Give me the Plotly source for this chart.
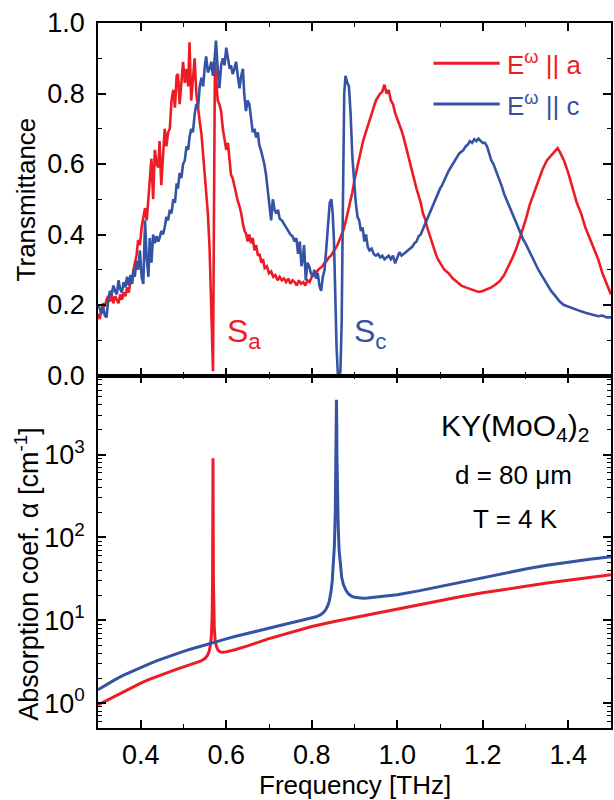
import math
import plotly.graph_objects as go

# ---------------- Transmittance, E(omega) || a ----------------
freq_a = [
    0.300, 0.304, 0.308, 0.312, 0.316, 0.320, 0.324, 0.328, 0.332, 0.336,
    0.340, 0.344, 0.348, 0.352, 0.356, 0.360, 0.364, 0.368, 0.372, 0.376,
    0.380, 0.383, 0.386, 0.390, 0.394, 0.398, 0.402, 0.406, 0.410, 0.414,
    0.418, 0.421, 0.425, 0.429, 0.433, 0.437, 0.441, 0.444, 0.448, 0.452,
    0.456, 0.460, 0.464, 0.468, 0.472, 0.476, 0.480, 0.484, 0.487, 0.491,
    0.495, 0.499, 0.503, 0.507, 0.511, 0.514, 0.518, 0.522, 0.526, 0.530,
    0.534, 0.538, 0.542, 0.547, 0.553, 0.557, 0.561, 0.565, 0.569, 0.5735,
    0.577, 0.580, 0.584, 0.588, 0.592, 0.596, 0.600, 0.604, 0.608, 0.611,
    0.615, 0.619, 0.623, 0.627, 0.631, 0.635, 0.639, 0.643, 0.647, 0.650,
    0.654, 0.658, 0.662, 0.666, 0.670, 0.674, 0.678, 0.682, 0.686, 0.690,
    0.695, 0.700, 0.705, 0.710, 0.715, 0.720, 0.725, 0.730, 0.735, 0.740,
    0.745, 0.750, 0.755, 0.760, 0.765, 0.770, 0.775, 0.780, 0.785, 0.790,
    0.795, 0.800, 0.805, 0.810, 0.815, 0.820, 0.825, 0.830, 0.835, 0.840,
    0.845, 0.850, 0.855, 0.860, 0.865, 0.870, 0.875, 0.880, 0.885, 0.890,
    0.895, 0.900, 0.905, 0.910, 0.915, 0.920, 0.925, 0.930, 0.935, 0.940,
    0.945, 0.950, 0.955, 0.960, 0.965, 0.970, 0.975, 0.980, 0.985, 0.990,
    0.995, 1.000, 1.005, 1.010, 1.015, 1.020, 1.025, 1.030, 1.035, 1.040,
    1.045, 1.050, 1.055, 1.060, 1.065, 1.070, 1.075, 1.080, 1.085, 1.090,
    1.095, 1.100, 1.105, 1.110, 1.120, 1.130, 1.140, 1.150, 1.160, 1.170,
    1.180, 1.190, 1.200, 1.210, 1.220, 1.230, 1.240, 1.250, 1.260, 1.270,
    1.280, 1.290, 1.300, 1.310, 1.320, 1.330, 1.340, 1.350, 1.360, 1.370,
    1.375, 1.380, 1.390, 1.400, 1.410, 1.420, 1.430, 1.440, 1.450, 1.460,
    1.470, 1.480, 1.490, 1.500,
]
trans_a = [
    0.175, 0.160, 0.185, 0.205, 0.195, 0.215, 0.225, 0.210, 0.230, 0.205,
    0.225, 0.215, 0.205, 0.230, 0.215, 0.235, 0.225, 0.250, 0.235, 0.265,
    0.270, 0.300, 0.320, 0.340, 0.385, 0.370, 0.420, 0.450, 0.475, 0.440,
    0.500, 0.540, 0.615, 0.500, 0.640, 0.600, 0.590, 0.665, 0.540, 0.620,
    0.700, 0.650, 0.690, 0.700, 0.780, 0.810, 0.760, 0.850, 0.855, 0.770,
    0.840, 0.890, 0.830, 0.870, 0.820, 0.945, 0.780, 0.840, 0.900, 0.800,
    0.750, 0.720, 0.685, 0.610, 0.525, 0.460, 0.360, 0.180, 0.012, 0.890,
    0.820, 0.780, 0.770, 0.750, 0.700, 0.665, 0.640, 0.660, 0.600, 0.570,
    0.560, 0.535, 0.510, 0.495, 0.480, 0.460, 0.430, 0.410, 0.400, 0.380,
    0.400, 0.375, 0.390, 0.355, 0.370, 0.340, 0.345, 0.320, 0.330, 0.305,
    0.310, 0.290, 0.295, 0.280, 0.285, 0.270, 0.280, 0.270, 0.275, 0.265,
    0.275, 0.260, 0.270, 0.265, 0.255, 0.270, 0.260, 0.265, 0.255, 0.270,
    0.265, 0.280, 0.285, 0.290, 0.300, 0.305, 0.310, 0.320, 0.325, 0.335,
    0.340, 0.350, 0.360, 0.370, 0.385, 0.400, 0.415, 0.440, 0.465, 0.490,
    0.520, 0.555, 0.585, 0.615, 0.640, 0.665, 0.685, 0.705, 0.720, 0.745,
    0.765, 0.780, 0.790, 0.800, 0.805, 0.825, 0.800, 0.810, 0.780, 0.770,
    0.745, 0.730, 0.715, 0.695, 0.675, 0.650, 0.630, 0.605, 0.580, 0.555,
    0.530, 0.510, 0.490, 0.460, 0.445, 0.420, 0.400, 0.380, 0.360, 0.345,
    0.330, 0.320, 0.310, 0.300, 0.290, 0.275, 0.265, 0.255, 0.250, 0.245,
    0.240, 0.237, 0.240, 0.245, 0.250, 0.258, 0.268, 0.285, 0.310, 0.335,
    0.365, 0.400, 0.440, 0.485, 0.520, 0.555, 0.585, 0.610, 0.625, 0.640,
    0.645, 0.635, 0.610, 0.575, 0.530, 0.490, 0.460, 0.420, 0.390, 0.360,
    0.330, 0.290, 0.260, 0.230,
]

# ---------------- Transmittance, E(omega) || c ----------------
freq_c = [
    0.300, 0.304, 0.308, 0.312, 0.316, 0.320, 0.324, 0.328, 0.332, 0.336,
    0.340, 0.344, 0.348, 0.352, 0.356, 0.360, 0.364, 0.368, 0.372, 0.376,
    0.380, 0.383, 0.386, 0.390, 0.394, 0.398, 0.402, 0.406, 0.410, 0.414,
    0.418, 0.421, 0.425, 0.429, 0.433, 0.437, 0.441, 0.444, 0.448, 0.452,
    0.456, 0.460, 0.464, 0.468, 0.472, 0.476, 0.480, 0.484, 0.487, 0.491,
    0.495, 0.499, 0.503, 0.507, 0.511, 0.514, 0.518, 0.522, 0.526, 0.530,
    0.534, 0.538, 0.542, 0.546, 0.550, 0.553, 0.557, 0.561, 0.565, 0.569,
    0.573, 0.576, 0.580, 0.584, 0.588, 0.592, 0.596, 0.600, 0.604, 0.608,
    0.611, 0.615, 0.619, 0.623, 0.627, 0.631, 0.635, 0.639, 0.642, 0.646,
    0.650, 0.654, 0.658, 0.662, 0.666, 0.670, 0.674, 0.677, 0.681, 0.685,
    0.689, 0.693, 0.697, 0.701, 0.705, 0.709, 0.713, 0.717, 0.721, 0.725,
    0.730, 0.735, 0.740, 0.745, 0.750, 0.755, 0.760, 0.764, 0.768, 0.772,
    0.776, 0.779, 0.782, 0.786, 0.790, 0.794, 0.798, 0.802, 0.806, 0.810,
    0.814, 0.818, 0.822, 0.826, 0.830, 0.834, 0.838, 0.842, 0.846, 0.849,
    0.852, 0.855, 0.858, 0.861, 0.864, 0.867, 0.870, 0.873, 0.876, 0.879,
    0.883, 0.887, 0.891, 0.895, 0.899, 0.903, 0.907, 0.911, 0.915, 0.919,
    0.923, 0.927, 0.931, 0.935, 0.940, 0.945, 0.950, 0.955, 0.960, 0.965,
    0.970, 0.975, 0.980, 0.985, 0.990, 0.995, 1.000, 1.005, 1.010, 1.015,
    1.020, 1.025, 1.030, 1.035, 1.040, 1.045, 1.050, 1.055, 1.060, 1.065,
    1.070, 1.075, 1.080, 1.085, 1.090, 1.095, 1.100, 1.105, 1.110, 1.115,
    1.120, 1.125, 1.130, 1.135, 1.140, 1.145, 1.150, 1.155, 1.160, 1.165,
    1.170, 1.175, 1.180, 1.185, 1.190, 1.195, 1.200, 1.205, 1.210, 1.215,
    1.220, 1.225, 1.230, 1.235, 1.240, 1.245, 1.250, 1.255, 1.260, 1.265,
    1.270, 1.275, 1.280, 1.285, 1.290, 1.295, 1.300, 1.310, 1.320, 1.330,
    1.340, 1.350, 1.360, 1.370, 1.380, 1.390, 1.400, 1.410, 1.420, 1.430,
    1.440, 1.450, 1.460, 1.470, 1.480, 1.490, 1.500,
]
trans_c = [
    0.200, 0.190, 0.175, 0.195, 0.170, 0.165, 0.215, 0.240, 0.230, 0.255,
    0.240, 0.230, 0.270, 0.245, 0.235, 0.265, 0.250, 0.280, 0.255, 0.285,
    0.260, 0.300, 0.280, 0.325, 0.300, 0.355, 0.280, 0.260, 0.440, 0.330,
    0.280, 0.390, 0.320, 0.400, 0.375, 0.395, 0.380, 0.390, 0.410, 0.400,
    0.420, 0.450, 0.440, 0.470, 0.460, 0.500, 0.490, 0.545, 0.530, 0.575,
    0.560, 0.600, 0.610, 0.650, 0.640, 0.675, 0.700, 0.690, 0.740, 0.770,
    0.760, 0.820, 0.845, 0.820, 0.880, 0.905, 0.860, 0.870, 0.890, 0.850,
    0.900, 0.950, 0.870, 0.815, 0.880, 0.900, 0.880, 0.930, 0.900, 0.870,
    0.880, 0.855, 0.870, 0.890, 0.850, 0.815, 0.850, 0.870, 0.800, 0.750,
    0.780, 0.770, 0.730, 0.690, 0.700, 0.675, 0.690, 0.655, 0.640, 0.620,
    0.600, 0.570, 0.530, 0.495, 0.440, 0.500, 0.470, 0.460, 0.470, 0.445,
    0.440, 0.430, 0.420, 0.410, 0.400, 0.395, 0.380, 0.390, 0.345, 0.380,
    0.310, 0.330, 0.370, 0.270, 0.320, 0.310, 0.290, 0.280, 0.300, 0.275,
    0.290, 0.255, 0.240, 0.280, 0.300, 0.360, 0.440, 0.490, 0.500, 0.460,
    0.380, 0.220, 0.080, 0.005, 0.000, 0.010, 0.150, 0.500, 0.800, 0.850,
    0.830, 0.820, 0.740, 0.620, 0.540, 0.490, 0.450, 0.440, 0.410, 0.420,
    0.380, 0.400, 0.365, 0.355, 0.360, 0.345, 0.340, 0.345, 0.335, 0.340,
    0.330, 0.335, 0.340, 0.330, 0.340, 0.318, 0.335, 0.350, 0.340, 0.345,
    0.350, 0.355, 0.360, 0.365, 0.375, 0.380, 0.395, 0.400, 0.415, 0.430,
    0.440, 0.455, 0.470, 0.490, 0.500, 0.515, 0.530, 0.540, 0.555, 0.565,
    0.580, 0.590, 0.600, 0.610, 0.620, 0.630, 0.635, 0.640, 0.650, 0.655,
    0.665, 0.660, 0.670, 0.665, 0.672, 0.665, 0.660, 0.660, 0.650, 0.630,
    0.610, 0.600, 0.585, 0.570, 0.550, 0.535, 0.515, 0.500, 0.485, 0.470,
    0.455, 0.440, 0.425, 0.410, 0.400, 0.385, 0.375, 0.350, 0.325, 0.300,
    0.280, 0.260, 0.240, 0.225, 0.210, 0.200, 0.195, 0.190, 0.185, 0.182,
    0.178, 0.175, 0.172, 0.168, 0.170, 0.165, 0.165,
]

# ---------------- Absorption coefficient (cm^-1), E(omega) || a ----------------
freq_alpha_a = [
    0.300, 0.320, 0.340, 0.360, 0.380, 0.400, 0.420, 0.440, 0.460, 0.480,
    0.500, 0.520, 0.540, 0.550, 0.556, 0.560, 0.563, 0.565, 0.566, 0.567,
    0.568, 0.5685, 0.569, 0.5695, 0.570, 0.571, 0.572, 0.574, 0.577, 0.581,
    0.586, 0.592, 0.600, 0.620, 0.650, 0.700, 0.750, 0.800, 0.850, 0.900,
    0.950, 1.000, 1.050, 1.100, 1.150, 1.200, 1.250, 1.300, 1.350, 1.400,
    1.450, 1.500,
]
alpha_a = [
    0.95, 1.07, 1.22, 1.38, 1.56, 1.74, 1.93, 2.12, 2.32, 2.52,
    2.73, 2.95, 3.20, 3.45, 3.75, 4.2, 5.0, 6.3, 7.8, 11.0,
    30.0, 120.0, 900.0, 120.0, 30.0, 12.0, 8.0, 5.8, 4.8, 4.35,
    4.15, 4.1, 4.15, 4.4, 4.9, 6.0, 7.1, 8.4, 9.6, 10.8,
    12.2, 13.7, 15.4, 17.3, 19.3, 21.4, 23.6, 25.8, 28.1, 30.4,
    32.8, 35.3,
]

# ---------------- Absorption coefficient (cm^-1), E(omega) || c ----------------
freq_alpha_c = [
    0.300, 0.320, 0.340, 0.360, 0.380, 0.400, 0.420, 0.440, 0.460, 0.480,
    0.500, 0.520, 0.540, 0.560, 0.580, 0.600, 0.620, 0.640, 0.660, 0.680,
    0.700, 0.720, 0.740, 0.760, 0.780, 0.800, 0.810, 0.820, 0.826, 0.832,
    0.837, 0.841, 0.845, 0.848, 0.851, 0.853, 0.855, 0.856, 0.857, 0.8578,
    0.8585, 0.859, 0.860, 0.862, 0.864, 0.867, 0.870, 0.874, 0.880, 0.886,
    0.893, 0.900, 0.910, 0.920, 0.930, 0.950, 1.000, 1.050, 1.100, 1.150,
    1.200, 1.250, 1.300, 1.350, 1.400, 1.450, 1.500,
]
alpha_c = [
    1.45, 1.68, 1.92, 2.17, 2.43, 2.70, 2.98, 3.27, 3.57, 3.88,
    4.20, 4.52, 4.86, 5.2, 5.55, 5.95, 6.35, 6.75, 7.15, 7.6,
    8.05, 8.5, 9.0, 9.5, 10.0, 10.6, 11.0, 11.6, 12.2, 13.2,
    14.8, 17.0, 22.0, 30.0, 48.0, 80.0, 200.0, 600.0, 2200.0, 4600.0,
    2200.0, 900.0, 350.0, 130.0, 70.0, 44.0, 33.0, 27.0, 23.0, 20.8,
    19.5, 18.9, 18.5, 18.4, 18.5, 18.9, 20.3, 22.6, 25.5, 29.0,
    33.0, 37.2, 41.5, 46.0, 50.3, 54.5, 58.5,
]

# tick labels of the logarithmic axis
alpha_tickvals = [1, 10, 100, 1000]
alpha_ticktext = ["10<sup>0</sup>", "10<sup>1</sup>", "10<sup>2</sup>", "10<sup>3</sup>"]

RED = "#ed1c24"
BLUE = "#3553a4"
FONT = "Liberation Sans, Arial, Helvetica, sans-serif"

fig = go.Figure()
fig.add_trace(go.Scatter(x=freq_a, y=trans_a, mode="lines", name="E || a",
                         line=dict(color=RED, width=2.6), xaxis="x", yaxis="y"))
fig.add_trace(go.Scatter(x=freq_c, y=trans_c, mode="lines", name="E || c",
                         line=dict(color=BLUE, width=2.6), xaxis="x", yaxis="y"))
fig.add_trace(go.Scatter(x=freq_alpha_a, y=alpha_a, mode="lines", name="alpha a",
                         line=dict(color=RED, width=3), xaxis="x2", yaxis="y2"))
fig.add_trace(go.Scatter(x=freq_alpha_c, y=alpha_c, mode="lines", name="alpha c",
                         line=dict(color=BLUE, width=3), xaxis="x2", yaxis="y2"))

frame = dict(showline=True, linecolor="black", linewidth=1.8, mirror="allticks",
             ticks="inside", ticklen=8, tickwidth=1.6, tickcolor="black",
             showgrid=False, zeroline=False, tickfont=dict(size=27))

minor_lin = lambda step: dict(ticks="inside", ticklen=4, tickwidth=1.4,
                              tickcolor="black", dtick=step, showgrid=False)

log_minor = [m * 10 ** e for e in range(-1, 4) for m in range(2, 10)]

fig.update_layout(
    width=614, height=800,
    margin=dict(l=98, r=1, t=23, b=72),
    paper_bgcolor="white", plot_bgcolor="white",
    showlegend=False,
    font=dict(family=FONT, size=24, color="black"),
    xaxis=dict(frame, domain=[0, 1], anchor="y", range=[0.3, 1.5],
               dtick=0.2, tick0=0, showticklabels=False, minor=minor_lin(0.1)),
    yaxis=dict(frame, domain=[0.5, 1], anchor="x", range=[0, 1.0],
               dtick=0.2, tick0=0, tickformat=".1f", ticklabelstandoff=6,
               minor=minor_lin(0.1)),
    xaxis2=dict(frame, domain=[0, 1], anchor="y2", range=[0.3, 1.5],
                dtick=0.2, tick0=0, tickformat=".1f", ticklabelstandoff=2,
                minor=minor_lin(0.1)),
    yaxis2=dict(frame, domain=[0, 0.5], anchor="x2", type="log",
                range=[math.log10(0.5), math.log10(9000)],
                tickmode="array", tickvals=alpha_tickvals, ticktext=alpha_ticktext,
                ticklabelstandoff=6,
                minor=dict(ticks="inside", ticklen=4, tickwidth=1.2, tickcolor="black",
                           tickmode="array", tickvals=log_minor, showgrid=False)),
)

# legend drawn as line samples with coloured labels
legend_rows = [(RED, "E<sup>ω</sup> || a", 0.943), (BLUE, "E<sup>ω</sup> || c", 0.885)]
for color, label, ypos in legend_rows:
    fig.add_shape(type="line", xref="paper", yref="paper",
                  x0=0.654, x1=0.783, y0=ypos, y1=ypos,
                  line=dict(color=color, width=3))
    fig.add_annotation(xref="paper", yref="paper", x=0.794, y=ypos,
                       xanchor="left", yanchor="middle", showarrow=False,
                       text=label, font=dict(size=26, color=color))

# mode labels in the transmittance panel
fig.add_annotation(xref="x", yref="y", x=0.596, y=0.12, xanchor="left", yanchor="middle",
                   showarrow=False, text="S<sub>a</sub>", font=dict(size=32, color=RED))
fig.add_annotation(xref="x", yref="y", x=0.894, y=0.12, xanchor="left", yanchor="middle",
                   showarrow=False, text="S<sub>c</sub>", font=dict(size=32, color=BLUE))

# sample description in the absorption panel
fig.add_annotation(xref="paper", yref="paper", x=0.812, y=0.426, xanchor="center",
                   yanchor="middle", showarrow=False,
                   text="KY(MoO<sub>4</sub>)<sub>2</sub>", font=dict(size=30))
fig.add_annotation(xref="paper", yref="paper", x=0.81, y=0.359, xanchor="center",
                   yanchor="middle", showarrow=False, text="d = 80 μm", font=dict(size=26))
fig.add_annotation(xref="paper", yref="paper", x=0.814, y=0.297, xanchor="center",
                   yanchor="middle", showarrow=False, text="T = 4 K", font=dict(size=26))

# axis titles
fig.add_annotation(xref="paper", yref="paper", x=-0.14, y=0.75, xanchor="center",
                   yanchor="middle", textangle=-90, showarrow=False,
                   text="Transmittance", font=dict(size=26))
fig.add_annotation(xref="paper", yref="paper", x=-0.14, y=0.219, xanchor="center",
                   yanchor="middle", textangle=-90, showarrow=False,
                   text="Absorption coef. α [cm<sup>-1</sup>]", font=dict(size=27))
fig.add_annotation(xref="paper", yref="paper", x=0.5, y=-0.0815, xanchor="center",
                   yanchor="middle", showarrow=False, borderpad=0,
                   text="Frequency [THz]", font=dict(size=26))

fig.write_html("out.html")
